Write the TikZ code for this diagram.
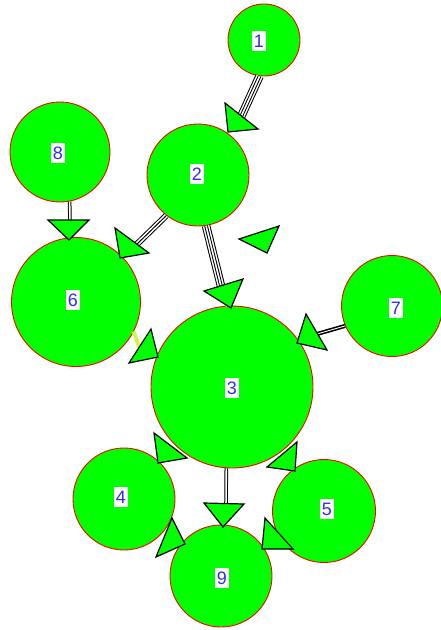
\documentclass[tikz,border=0pt]{standalone}
\usepackage{fontspec}
\setmainfont{Liberation Sans}
\definecolor{ngreen}{RGB}{0,255,0}
\definecolor{nred}{RGB}{255,0,0}
\definecolor{labblue}{RGB}{45,45,245}
\definecolor{yel}{RGB}{255,235,40}
\tikzset{
  circ/.style={circle, draw=nred, fill=ngreen, line width=0.9pt, inner sep=0pt},
  lab/.style={fill=white, text=labblue, font=\fontsize{18}{18}\selectfont,
    inner xsep=2pt, inner ysep=2pt, text height=14pt, text depth=2pt},
  arrowhd/.style={draw=black, fill=ngreen, line width=1.2pt, line join=miter},
  dbl/.style={draw=black, line width=1pt, double=white, double distance=1.6pt},
  heavy/.style={draw=black, line width=1.6pt, double=white, double distance=0.9pt},
  dblwide/.style={draw=black, line width=1pt, double=white, double distance=6.5pt},
  dblmid/.style={draw=black, line width=1pt, double=white, double distance=4.2pt},
  single/.style={draw=black, line width=1pt},
  yline/.style={draw=yel, line width=1.3pt, double=ngreen!40!white, double distance=1.4pt}
}
\newcommand\fourline[2]{\draw[dblwide] (#1) -- (#2); \draw[dbl] (#1) -- (#2);}
\newcommand\threeline[2]{\draw[dblmid] (#1) -- (#2); \draw[single] (#1) -- (#2);}
\begin{document}
\begin{tikzpicture}[x=1pt,y=-1pt]
\useasboundingbox (0,0) rectangle (441,630);
\fill[white] (0,0) rectangle (441,630);
% circles
\node[circ, minimum size=72pt]  (n1) at (264,40) {};
\node[circ, minimum size=102pt] (n2) at (198,175) {};
\node[circ, minimum size=100pt] (n8) at (60,152) {};
\node[circ, minimum size=129pt] (n6) at (76,302) {};
\node[circ, minimum size=162pt] (n3) at (232,387) {};
\node[circ, minimum size=101pt] (n7) at (392,306) {};
\node[circ, minimum size=102pt] (n4) at (124,499) {};
\node[circ, minimum size=103pt] (n5) at (324,511) {};
\node[circ, minimum size=102pt] (n9) at (221,576) {};
% connector ends
\coordinate (e12) at (240,119);
\coordinate (e23) at (222,290);
\coordinate (e26) at (135,246);
\coordinate (e86) at (70,225);
\coordinate (e73) at (317,334);
\coordinate (e39) at (226,508);
\coordinate (y63) at (139,347);
\coordinate (y23a) at (221,298);
\coordinate (y39a) at (226,516);
% connectors
\fourline{n1.263}{e12}
\fourline{n2.279}{e23}
\threeline{n2.232}{e26}
\draw[dbl] (n8.281) -- (e86);
\draw[heavy] (n7.203) -- (e73);
\draw[dbl] (n3.266) -- (e39);
% yellow stubs
\draw[yline] (n6.-27) -- (y63);
\draw[yline] (y23a) -- (n3.93);
\draw[yline] (y39a) -- (n9.87);
% arrowheads
\draw[arrowhd] (225,103) -- (228,132) -- (258,129) -- cycle;
\draw[arrowhd] (115,228) -- (120,258) -- (149,253) -- cycle;
\draw[arrowhd] (204,291) -- (243,279) -- (231,308) -- cycle;
\draw[arrowhd] (239,239) -- (279,226) -- (267,253) -- cycle;
\draw[arrowhd] (48,220) -- (89,220) -- (69,240) -- cycle;
\draw[arrowhd] (151,329) -- (129,363) -- (158,357) -- cycle;
\draw[arrowhd] (306,314) -- (297,343) -- (327,350) -- cycle;
\draw[arrowhd] (154,433) -- (158,463) -- (187,458) -- cycle;
\draw[arrowhd] (297,442) -- (267,467) -- (295,471) -- cycle;
\draw[arrowhd] (204,503) -- (244,504) -- (223,527) -- cycle;
\draw[arrowhd] (172,518) -- (156,557) -- (185,544) -- cycle;
\draw[arrowhd] (265,518) -- (262,549) -- (293,549) -- cycle;
% labels
\node[lab] (l1) at (259,41) {1};
\node[lab] (l2) at (197,174) {2};
\node[lab] (l8) at (58,153) {8};
\node[lab] (l6) at (73,300) {6};
\node[lab] (l7) at (396,308) {7};
\node[lab] (l3) at (232,388) {3};
\node[lab] (l4) at (121,497) {4};
\node[lab] (l5) at (327,509) {5};
\node[lab] (l9) at (222,578) {9};
\end{tikzpicture}
\end{document}
